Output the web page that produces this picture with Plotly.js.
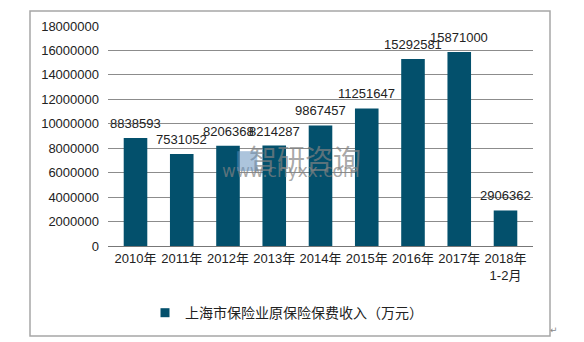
<!DOCTYPE html>
<html>
<head>
<meta charset="utf-8">
<script src="https://cdn.plot.ly/plotly-3.0.1.min.js"></script>
<style>html,body{margin:0;padding:0;background:#fff;}#chart{width:584px;height:342px;}</style>
</head>
<body>
<div id="chart"></div>
<script>
const categories = ["2010年","2011年","2012年","2013年","2014年","2015年","2016年","2017年","2018年<br>1-2月"];
const values = [8838593, 7531052, 8206368, 8214287, 9867457, 11251647, 15292581, 15871000, 2906362];
const seriesName = "上海市保险业原保险保费收入（万元）";
const yTicks = [0,2000000,4000000,6000000,8000000,10000000,12000000,14000000,16000000,18000000];

const FONT = "Liberation Sans, Arial, Noto Sans CJK SC, sans-serif";
const BAR = "#03506c";
const trace = {
  type: "bar",
  x: categories,
  y: values,
  name: seriesName,
  showlegend: false,
  marker: {color: BAR},
  hoverinfo: "none"
};
const legendTrace = {
  type: "scatter", mode: "markers", x: [null], y: [null], name: seriesName,
  marker: {symbol: "square", size: 9, color: BAR}, hoverinfo: "none", showlegend: true
};
const labelAnns = categories.map((c, i) => ({
  x: c, y: values[i], xref: "x", yref: "y", text: String(values[i]), showarrow: false,
  yanchor: "bottom", yshift: 5,
  font: {family: FONT, size: 13, color: "#222"}
}));
const layout = {
  width: 584, height: 342,
  margin: {l: 108, r: 51, t: 26, b: 96},
  paper_bgcolor: "#fff", plot_bgcolor: "#fff",
  font: {family: FONT, size: 12, color: "#333"},
  bargap: 0.49,
  showlegend: true,
  legend: {orientation: "h", x: 0.42, xanchor: "center", y: -0.305, yanchor: "middle",
           font: {family: FONT, size: 14, color: "#222"}, itemwidth: 30},
  xaxis: {
    type: "category", showgrid: false, showline: true, linecolor: "#777", linewidth: 1,
    ticks: "", tickfont: {family: FONT, size: 13, color: "#222"}, fixedrange: true
  },
  yaxis: {
    range: [0, 18000000], tickvals: yTicks, ticktext: yTicks.map(v => String(v)),
    showgrid: true, gridcolor: "#8c8c8c", gridwidth: 1, zeroline: false, showline: false,
    ticks: "", ticklabelstandoff: 8, tickfont: {family: FONT, size: 13, color: "#222"}, fixedrange: true
  },
  shapes: [{
    type: "rect", xref: "paper", yref: "paper",
    x0: (30-108)/425, x1: (550-108)/425, y0: (246-336)/220, y1: (246-11)/220,
    line: {color: "#a6a6a6", width: 1.5}, fillcolor: "rgba(0,0,0,0)", layer: "below"
  }],
  annotations: [
    {xref: "paper", yref: "paper", x: (305-108)/425, y: (246-158)/220, text: "智研咨询", showarrow: false,
     font: {family: "Noto Sans CJK SC", size: 28, color: "rgba(130,130,130,0.7)"}},
    {xref: "paper", yref: "paper", x: (291-108)/425, y: (246-183)/220, text: "www.chyxx.com", showarrow: false,
     font: {family: "DejaVu Sans", size: 17, color: "rgba(130,130,130,0.7)"}},
    {xref: "paper", yref: "paper", x: (233-108)/425, y: (246-159)/220, text: "■", showarrow: false,
     font: {family: "DejaVu Sans", size: 26, color: "rgba(100,145,190,0.55)"}},
    {xref: "paper", yref: "paper", x: (560-108)/425, y: (246-337)/220, text: "↵", showarrow: false,
     font: {family: "DejaVu Sans", size: 9, color: "#888"}}
  ].concat(labelAnns)
};
Plotly.newPlot("chart", [trace, legendTrace], layout, {staticPlot: true, displayModeBar: false});
</script>
</body>
</html>
